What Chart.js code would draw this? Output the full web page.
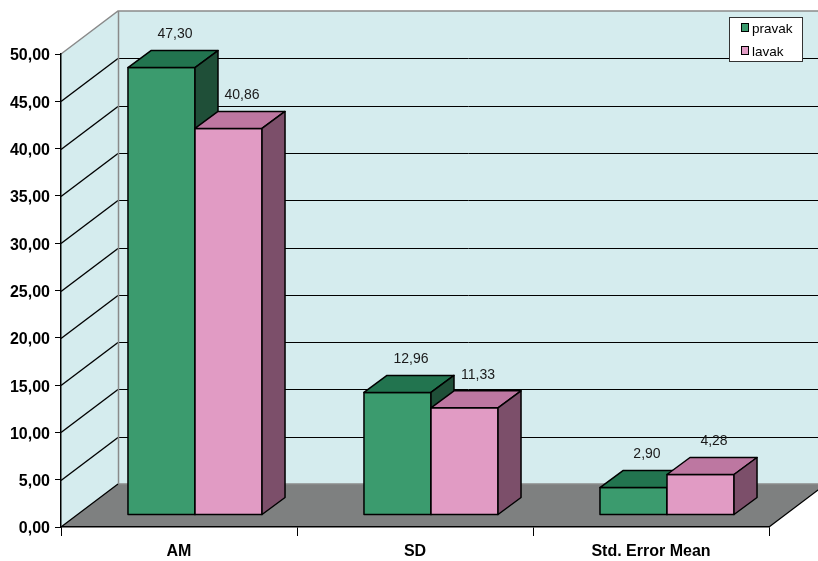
<!DOCTYPE html>
<html>
<head>
<meta charset="utf-8">
<script src="https://cdn.jsdelivr.net/npm/chart.js@4.4.1/dist/chart.umd.min.js"></script>
<style>
  html, body { margin: 0; padding: 0; background: #fff; }
  canvas { display: block; }
</style>
</head>
<body>
<canvas id="myChart" width="818" height="561"></canvas>
<script>
var categories = ['AM', 'SD', 'Std. Error Mean'];
var seriesNames = ['pravak', 'lavak'];
var pravak = [47.30, 12.96, 2.90];
var lavak = [40.86, 11.33, 4.28];
var yMin = 0, yMax = 50, yStep = 5;

var FONT = '"Liberation Sans", Arial, sans-serif';

// colours per series: front, top, side
var faces = [
  { front: '#3b9b6e', top: '#22744f', side: '#1f4f38' },
  { front: '#e19bc4', top: '#bd77a1', side: '#7c4f6a' }
];

// depth of the room (walls) and of the boxes
var wallDX = 57, wallDY = -43;
var barShiftX = 16, barShiftY = -12;
var barDX = 23, barDY = -17;

function fmt(v) {
  return v.toFixed(2).replace('.', ',');
}

function poly(ctx, pts, fill, stroke, lw) {
  ctx.beginPath();
  ctx.moveTo(pts[0][0], pts[0][1]);
  for (var i = 1; i < pts.length; i++) ctx.lineTo(pts[i][0], pts[i][1]);
  ctx.closePath();
  if (fill) { ctx.fillStyle = fill; ctx.fill(); }
  if (stroke) { ctx.lineWidth = lw || 1; ctx.strokeStyle = stroke; ctx.stroke(); }
}

var room = {
  id: 'room',
  beforeDraw: function (chart) {
    var ctx = chart.ctx, a = chart.chartArea, ys = chart.scales.y;
    var L = a.left, R = a.right, T = a.top, B = a.bottom;
    ctx.save();
    // left wall, back wall, floor
    poly(ctx, [[L, T], [L + wallDX, T + wallDY], [L + wallDX, B + wallDY], [L, B]], '#d5ecee');
    ctx.fillStyle = '#d5ecee';
    ctx.fillRect(L + wallDX, T + wallDY, R - L, B - T);
    poly(ctx, [[L, B], [L + wallDX, B + wallDY], [R + wallDX, B + wallDY], [R, B]], '#7e8080');

    // gridlines running along the left wall and across the back wall
    ctx.strokeStyle = '#000';
    ys.ticks.forEach(function (t) {
      if (t.value <= yMin || t.value >= yMax) return;
      var y = Math.round(ys.getPixelForValue(t.value)) + 0.5;
      ctx.lineWidth = 1.4;
      ctx.beginPath();
      ctx.moveTo(L, y);
      ctx.lineTo(L + wallDX, y + wallDY);
      ctx.stroke();
      ctx.lineWidth = 1;
      ctx.beginPath();
      ctx.moveTo(L + wallDX, y + wallDY);
      ctx.lineTo(R + wallDX, y + wallDY);
      ctx.stroke();
    });

    // wall edges
    ctx.strokeStyle = '#8a8a8a';
    ctx.lineWidth = 1.5;
    ctx.beginPath();
    ctx.moveTo(L, T);
    ctx.lineTo(L + wallDX, T + wallDY);
    ctx.lineTo(R + wallDX, T + wallDY);
    ctx.moveTo(L + wallDX + 0.5, T + wallDY);
    ctx.lineTo(L + wallDX + 0.5, B + wallDY);
    ctx.lineTo(R + wallDX, B + wallDY);
    ctx.stroke();

    // floor side edges
    ctx.strokeStyle = '#000';
    ctx.lineWidth = 1.3;
    ctx.beginPath();
    ctx.moveTo(L, B);
    ctx.lineTo(L + wallDX, B + wallDY);
    ctx.moveTo(R, B);
    ctx.lineTo(R + wallDX, B + wallDY);
    ctx.stroke();
    ctx.restore();
  },
  beforeDatasetsDraw: function (chart) {
    var ctx = chart.ctx;
    ctx.save();
    ctx.lineJoin = 'round';
    for (var i = 0; i < categories.length; i++) {
      chart.data.datasets.forEach(function (ds, d) {
        var el = chart.getDatasetMeta(d).data[i];
        var c = faces[d];
        var l = el.x - el.width / 2 + barShiftX, r = el.x + el.width / 2 + barShiftX;
        var t = el.y + barShiftY, b = el.base + barShiftY;
        poly(ctx, [[l, b], [l, t], [r, t], [r, b]], c.front, '#000', 1.5);
        poly(ctx, [[l, t], [l + barDX, t + barDY], [r + barDX, t + barDY], [r, t]], c.top, '#000', 1.5);
        poly(ctx, [[r, t], [r + barDX, t + barDY], [r + barDX, b + barDY], [r, b]], c.side, '#000', 1.5);
      });
    }
    ctx.restore();
    return false;
  },
  afterDraw: function (chart) {
    var ctx = chart.ctx;
    ctx.save();
    // value labels above each box
    ctx.font = '14px ' + FONT;
    ctx.fillStyle = '#1a1a1a';
    ctx.textAlign = 'center';
    ctx.textBaseline = 'middle';
    chart.data.datasets.forEach(function (ds, d) {
      chart.getDatasetMeta(d).data.forEach(function (el, i) {
        var x = el.x + barShiftX + barDX / 2 + 2;
        var y = el.y + barShiftY + barDY - 16;
        ctx.fillText(fmt(ds.data[i]), x, y);
      });
    });

    // legend box
    var bx = 729.5, by = 17.5, bw = 73, bh = 44;
    ctx.fillStyle = '#fff';
    ctx.fillRect(bx, by, bw, bh);
    ctx.strokeStyle = '#333';
    ctx.lineWidth = 1;
    ctx.strokeRect(bx, by, bw, bh);
    ctx.textAlign = 'left';
    ctx.font = '13.5px ' + FONT;
    chart.data.datasets.forEach(function (ds, d) {
      var cy = 28 + d * 23;
      ctx.fillStyle = faces[d].front;
      ctx.fillRect(741.5, cy - 4.5, 7, 8);
      ctx.strokeStyle = '#000';
      ctx.strokeRect(741.5, cy - 4.5, 7, 8);
      ctx.fillStyle = '#000';
      ctx.fillText(ds.label, 752, cy + 1);
    });
    ctx.restore();
  }
};

var ctx = document.getElementById('myChart');
var myChart = new Chart(ctx, {
  type: 'bar',
  data: {
    labels: categories,
    datasets: [
      { label: seriesNames[0], data: pravak, backgroundColor: faces[0].front },
      { label: seriesNames[1], data: lavak, backgroundColor: faces[1].front }
    ]
  },
  options: {
    responsive: false,
    animation: false,
    devicePixelRatio: 1,
    layout: { padding: { left: 0, top: 54, right: 49, bottom: 0 } },
    datasets: { bar: { barPercentage: 1, categoryPercentage: 0.568 } },
    plugins: {
      legend: { display: false },
      tooltip: { enabled: false }
    },
    scales: {
      x: {
        grid: { drawOnChartArea: false, drawTicks: true, tickLength: 9, color: '#000', lineWidth: 1 },
        border: { display: true, color: '#000', width: 1.5 },
        ticks: { color: '#000', font: { family: FONT, size: 16, weight: 'bold' }, padding: 6 },
        afterFit: function (s) { s.height = 34; }
      },
      y: {
        min: yMin,
        max: yMax,
        grid: { drawOnChartArea: false, drawTicks: true, tickLength: 6, color: '#000', lineWidth: 1 },
        border: { display: true, color: '#000', width: 1.5 },
        ticks: {
          stepSize: yStep,
          color: '#000',
          font: { family: FONT, size: 16, weight: 'bold' },
          padding: 5,
          labelOffset: 2,
          callback: function (v) { return fmt(v); }
        },
        afterFit: function (s) { s.width = 61; }
      }
    }
  },
  plugins: [room]
});
</script>
</body>
</html>
